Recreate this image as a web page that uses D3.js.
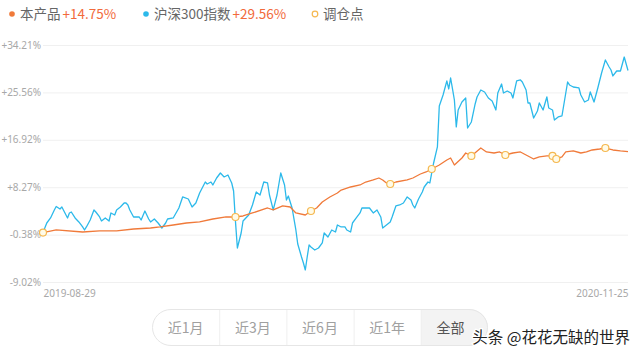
<!DOCTYPE html>
<html>
<head>
<meta charset="utf-8">
<script src="https://cdn.jsdelivr.net/npm/d3@7"></script>
<style>
  html, body { margin: 0; padding: 0; background: #fff; }
  svg { display: block; font-family: "Noto Sans CJK SC", "Noto Sans", sans-serif; }
</style>
</head>
<body>
<div id="chart"></div>
<script>
// trading day index (0 = 2019-08-29, 310 = 2020-11-25), cumulative return %
var fundSeries = [
  [0, 0], [7, 0.47], [21, 0.10], [30, 0.29], [39, 0.29], [48, 0.65], [57, 0.83], [62, 1.02],
  [69, 1.38], [76, 1.74], [83, 1.93], [90, 2.47], [97, 2.84], [102, 2.84], [106, 3.02], [111, 3.57],
  [119, 4.48], [122, 4.12], [127, 4.85], [131, 4.66], [134, 3.57], [139, 3.20], [142, 3.93], [145, 4.48],
  [148, 5.58], [152, 6.49], [156, 7.22], [158, 7.76], [163, 8.31], [168, 8.68], [171, 9.22], [175, 9.59],
  [178, 9.95], [180, 9.59], [182, 9.04], [184, 8.86], [187, 9.22], [193, 9.59], [196, 9.95], [200, 10.68],
  [203, 11.05], [206, 11.59], [210, 12.32], [214, 13.24], [216, 13.60], [218, 12.32], [222, 13.60], [224, 14.51],
  [227, 13.97], [232, 15.42], [235, 14.70], [239, 14.51], [242, 14.70], [245, 14.15], [249, 14.51], [253, 14.70],
  [256, 14.15], [260, 13.42], [263, 13.79], [267, 13.97], [270, 13.97], [272, 13.42], [275, 13.79], [277, 14.70],
  [281, 14.88], [285, 14.51], [288, 14.70], [291, 15.06], [295, 15.24], [298, 15.42], [302, 15.06], [306, 14.88],
  [310, 14.75]
];

var indexSeries = [
  [0, 0], [2, 1.74], [4, 2.66], [6, 4.12], [7, 4.75], [9, 4.30], [10, 4.66], [13, 2.66],
  [14, 3.57], [15, 3.75], [17, 2.66], [19, 1.93], [21, 1.02], [22, 0.47], [23, 1.02], [25, 2.29],
  [27, 4.12], [28, 3.75], [30, 2.84], [31, 2.11], [33, 2.66], [35, 2.11], [36, 3.57], [38, 3.20],
  [39, 4.12], [41, 4.66], [43, 5.39], [44, 5.39], [45, 5.03], [46, 4.12], [48, 2.84], [50, 2.84],
  [51, 2.84], [52, 2.29], [54, 3.93], [56, 2.47], [57, 1.93], [59, 2.47], [61, 1.74], [63, 0.83],
  [65, 1.74], [66, 2.47], [69, 2.66], [72, 4.48], [74, 6.49], [77, 6.12], [79, 4.66], [81, 5.39],
  [83, 7.22], [86, 9.22], [87, 8.86], [89, 9.22], [90, 8.68], [92, 9.95], [94, 10.86], [96, 10.14],
  [98, 10.50], [100, 9.04], [101, 7.58], [102, 2.00], [103, -2.82], [105, -0.08], [106, 2.11], [109, 3.20],
  [111, 5.03], [113, 7.40], [115, 6.85], [117, 9.22], [119, 9.04], [120, 6.85], [122, 4.12], [124, 6.85],
  [126, 10.86], [128, 8.68], [129, 5.94], [130, 6.67], [132, 4.48], [134, 0.47], [135, -2.09], [137, -4.46],
  [138, -5.55], [139, -6.83], [140, -4.46], [141, -2.27], [142, -2.63], [144, -3.18], [146, -2.82], [148, -1.90],
  [149, -0.08], [151, -0.81], [153, 0.47], [155, 0.10], [156, 1.38], [158, 1.02], [160, 1.02], [161, 0.47],
  [163, 0.10], [164, 1.74], [166, 2.66], [168, 3.57], [169, 4.48], [171, 4.48], [173, 4.48], [175, 3.57],
  [177, 4.12], [179, 2.84], [180, 0.83], [182, 1.38], [184, 1.93], [185, 2.84], [187, 4.85], [189, 5.03],
  [191, 5.39], [193, 6.49], [195, 5.94], [196, 5.03], [197, 4.48], [199, 6.12], [201, 7.40], [202, 8.31],
  [204, 9.22], [205, 9.04], [207, 12.69], [209, 15.61], [210, 23.09], [212, 25.09], [214, 27.65], [215, 26.19],
  [216, 28.19], [217, 26.19], [218, 24.18], [219, 19.26], [220, 22.36], [222, 23.82], [224, 24.54], [225, 19.07],
  [227, 20.17], [229, 23.45], [230, 24.73], [232, 26.00], [234, 25.64], [236, 24.54], [238, 24.00], [240, 22.36],
  [241, 25.46], [243, 27.10], [244, 25.46], [246, 25.82], [248, 25.46], [249, 24.54], [251, 27.65], [253, 27.83],
  [254, 27.46], [256, 26.00], [257, 23.63], [258, 23.63], [260, 20.90], [262, 22.17], [263, 23.63], [265, 22.36],
  [267, 24.73], [268, 22.72], [270, 22.36], [271, 20.53], [273, 21.08], [275, 21.26], [278, 27.46], [279, 26.92],
  [281, 26.55], [284, 26.37], [285, 25.09], [287, 23.82], [289, 24.18], [290, 25.64], [292, 23.82], [294, 26.37],
  [296, 29.10], [298, 31.48], [300, 30.20], [301, 29.65], [302, 28.56], [304, 29.47], [306, 29.47], [308, 32.02],
  [310, 29.56]
];

// rebalance points on the fund line
var rebalancePoints = [
  [0, 0], [102, 2.84], [142, 3.93], [184, 8.86], [206, 11.59],
  [227, 13.97], [245, 14.15], [270, 13.97], [272, 13.42], [298, 15.42]
];

var yTicks = [-9.02, -0.38, 8.27, 16.92, 25.56, 34.21];
var dateLabels = ["2019-08-29", "2020-11-25"];
var totalDays = 310;
var seriesNames = ["本产品", "沪深300指数", "调仓点"];
var seriesReturns = ["+14.75%", "+29.56%"];
var rangeButtons = ["近1月", "近3月", "近6月", "近1年", "全部"];

var width = 640,
    height = 355,
    margin = ({ top: 45, right: 12, bottom: 73, left: 43 }),
    fundColor = "#f07a3a",
    indexColor = "#2cb9ea",
    markColor = "#f5b850";

var svg = d3.select("#chart").append("svg")
    .attr("width", width)
    .attr("height", height);

var x = d3.scaleLinear()
    .domain([0, totalDays])
    .range([margin.left, width - margin.right]);

var y = d3.scaleLinear()
    .domain([yTicks[0], yTicks[yTicks.length - 1]])
    .range([height - margin.bottom, margin.top]);

var fmt = v => (v > 0 ? "+" : "") + v.toFixed(2) + "%";

// y axis with grid
svg.append("g")
    .attr("transform", `translate(${margin.left},0)`)
    .call(d3.axisLeft(y).tickValues(yTicks).tickFormat(fmt)
        .tickSize(-(width - margin.left - margin.right)).tickPadding(2))
    .call(g => g.select(".domain").remove())
    .call(g => g.selectAll(".tick line").attr("stroke", "#f0f0f0"))
    .call(g => g.selectAll(".tick text")
        .attr("fill", "#a8a8a8")
        .style("font-size", "10px")
        .style("font-family", "'Noto Sans', sans-serif"));

// x axis: only the two end dates
svg.append("g")
    .attr("transform", `translate(0,${height - margin.bottom})`)
    .call(d3.axisBottom(x).tickValues([0, totalDays]).tickSize(0).tickPadding(8)
        .tickFormat((d, i) => dateLabels[i]))
    .call(g => g.select(".domain").remove())
    .call(g => g.selectAll(".tick text")
        .attr("fill", "#a8a8a8")
        .attr("text-anchor", (d, i) => i === 0 ? "start" : "end")
        .style("font-size", "10px")
        .style("font-family", "'Noto Sans', sans-serif"));

var line = d3.line()
    .x(d => x(d[0]))
    .y(d => y(d[1]));

svg.append("path")
    .datum(indexSeries)
    .attr("fill", "none")
    .attr("stroke", indexColor)
    .attr("stroke-width", 1.3)
    .attr("stroke-linejoin", "round")
    .attr("d", line);

svg.append("path")
    .datum(fundSeries)
    .attr("fill", "none")
    .attr("stroke", fundColor)
    .attr("stroke-width", 1.3)
    .attr("stroke-linejoin", "round")
    .attr("d", line);

svg.append("g")
    .selectAll("circle")
    .data(rebalancePoints)
    .join("circle")
    .attr("cx", d => x(d[0]))
    .attr("cy", d => y(d[1]))
    .attr("r", 3.5)
    .attr("fill", "#fffbe8")
    .attr("stroke", markColor)
    .attr("stroke-width", 1.2);

// legend
var legend = svg.append("g").style("font-size", "13.5px");
var legendX = [12, 146, 315];

legend.append("circle").attr("cx", legendX[0]).attr("cy", 14).attr("r", 2.8).attr("fill", fundColor);
legend.append("circle").attr("cx", legendX[1]).attr("cy", 14).attr("r", 2.8).attr("fill", indexColor);
legend.append("circle").attr("cx", legendX[2]).attr("cy", 14).attr("r", 2.8)
    .attr("fill", "#fff").attr("stroke", markColor).attr("stroke-width", 1.2);

seriesNames.forEach((name, i) => {
    var t = legend.append("text")
        .attr("x", legendX[i] + 8)
        .attr("y", 19)
        .attr("fill", "#666");
    t.append("tspan").text(name);
    if (seriesReturns[i]) {
        t.append("tspan").attr("fill", "#f26a3b").attr("dx", 2).text(seriesReturns[i]);
    }
});

// range buttons
var btnX = d3.scaleBand().domain(rangeButtons).range([152, 488]);
var btnY = 309, btnH = 37;
var buttons = svg.append("g");

buttons.append("clipPath").attr("id", "pill")
    .append("rect")
    .attr("x", btnX.range()[0]).attr("y", btnY)
    .attr("width", btnX.range()[1] - btnX.range()[0]).attr("height", btnH)
    .attr("rx", btnH / 2);

buttons.append("rect")
    .attr("clip-path", "url(#pill)")
    .attr("x", btnX("全部")).attr("y", btnY)
    .attr("width", btnX.bandwidth()).attr("height", btnH)
    .attr("fill", "#f3f3f3");

buttons.selectAll("line")
    .data(rangeButtons.slice(1))
    .join("line")
    .attr("x1", d => btnX(d) + 0.5).attr("x2", d => btnX(d) + 0.5)
    .attr("y1", btnY).attr("y2", btnY + btnH)
    .attr("stroke", "#efefef");

buttons.append("rect")
    .attr("x", btnX.range()[0] + 0.5).attr("y", btnY + 0.5)
    .attr("width", btnX.range()[1] - btnX.range()[0] - 1).attr("height", btnH - 1)
    .attr("rx", btnH / 2)
    .attr("fill", "none")
    .attr("stroke", "#e6e6e6");

buttons.selectAll("text")
    .data(rangeButtons)
    .join("text")
    .attr("x", d => btnX(d) + btnX.bandwidth() / 2 - (d === "全部" ? 4 : 0))
    .attr("y", btnY + btnH / 2 + 5)
    .attr("text-anchor", "middle")
    .attr("fill", (d, i) => i === rangeButtons.length - 1 ? "#555" : "#a0a0a0")
    .style("font-size", "14px")
    .text(d => d);

// watermark
svg.append("text")
    .attr("x", 630)
    .attr("y", 343)
    .attr("text-anchor", "end")
    .attr("fill", "#222")
    .attr("stroke", "#fff")
    .attr("stroke-width", 2.5)
    .attr("paint-order", "stroke")
    .style("font-size", "15.5px")
    .text("头条 @花花无缺的世界");
</script>
</body>
</html>
